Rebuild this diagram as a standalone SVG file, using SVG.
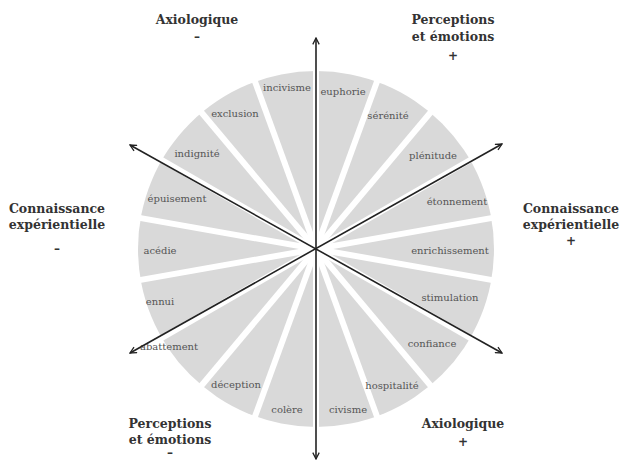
<svg xmlns="http://www.w3.org/2000/svg" width="621" height="461" viewBox="0 0 621 461">
<style>
.gap{stroke:#fff;stroke-width:6;}
.axis{stroke:#222;stroke-width:1.6;fill:none;marker-start:url(#arr);marker-end:url(#arr);}
.lbl{font-family:"DejaVu Serif","Liberation Serif",serif;font-size:10px;fill:#555;text-anchor:middle;}
.ttl{font-family:"DejaVu Serif","Liberation Serif",serif;font-size:12.5px;font-weight:bold;fill:#333;text-anchor:middle;}
.sgn{font-family:"DejaVu Serif","Liberation Serif",serif;font-size:12px;font-weight:bold;fill:#333;text-anchor:middle;}
</style>
<defs>
<marker id="arr" viewBox="0 0 10 10" refX="9" refY="5" markerWidth="8" markerHeight="8" markerUnits="userSpaceOnUse" orient="auto-start-reverse">
<path d="M1,1 L9,5 L1,9" fill="none" stroke="#222" stroke-width="1.6"/>
</marker>
</defs>
<rect width="621" height="461" fill="#fff"/>
<g id="wheel">
<circle cx="316" cy="249" r="178" fill="#d9d9d9"/>
<g class="gap">
<line x1="316" y1="64" x2="316" y2="434"/>
<line x1="379.3" y1="75.2" x2="252.7" y2="422.8"/>
<line x1="434.9" y1="107.3" x2="197.1" y2="390.7"/>
<line x1="476.2" y1="156.5" x2="155.8" y2="341.5"/>
<line x1="498.2" y1="216.9" x2="133.8" y2="281.1"/>
<line x1="498.2" y1="281.1" x2="133.8" y2="216.9"/>
<line x1="476.2" y1="341.5" x2="155.8" y2="156.5"/>
<line x1="434.9" y1="390.7" x2="197.1" y2="107.3"/>
<line x1="379.3" y1="422.8" x2="252.7" y2="75.2"/>
</g>
</g>
<g id="labels">
<text class="lbl" x="287" y="91">incivisme</text>
<text class="lbl" x="343" y="95">euphorie</text>
<text class="lbl" x="235" y="117">exclusion</text>
<text class="lbl" x="388" y="119">sérénité</text>
<text class="lbl" x="197" y="157">indignité</text>
<text class="lbl" x="433" y="159">plénitude</text>
<text class="lbl" x="177" y="202">épuisement</text>
<text class="lbl" x="457" y="205">étonnement</text>
<text class="lbl" x="160" y="254">acédie</text>
<text class="lbl" x="450" y="254">enrichissement</text>
<text class="lbl" x="160" y="305">ennui</text>
<text class="lbl" x="450" y="301">stimulation</text>
<text class="lbl" x="169" y="350">abattement</text>
<text class="lbl" x="432" y="347">confiance</text>
<text class="lbl" x="236" y="388">déception</text>
<text class="lbl" x="392" y="389">hospitalité</text>
<text class="lbl" x="287" y="413">colère</text>
<text class="lbl" x="348" y="413">civisme</text>
</g>
<g id="connectors">
<line class="axis" x1="316" y1="459" x2="316" y2="38"/>
<line class="axis" x1="130" y1="353" x2="502" y2="144"/>
<line class="axis" x1="502" y1="353" x2="130" y2="145"/>
</g>
<g id="axio-minus">
<text class="ttl" x="197" y="24">Axiologique</text>
<text class="sgn" x="197" y="41">–</text>
</g>
<g id="perc-plus">
<text class="ttl" x="453" y="24">Perceptions</text>
<text class="ttl" x="453" y="41">et émotions</text>
<text class="sgn" x="453" y="60">+</text>
</g>
<g id="conn-minus">
<text class="ttl" x="57" y="213">Connaissance</text>
<text class="ttl" x="57" y="229">expérientielle</text>
<text class="sgn" x="57" y="253">–</text>
</g>
<g id="conn-plus">
<text class="ttl" x="571" y="213">Connaissance</text>
<text class="ttl" x="571" y="229">expérientielle</text>
<text class="sgn" x="571" y="245">+</text>
</g>
<g id="perc-minus">
<text class="ttl" x="170" y="428">Perceptions</text>
<text class="ttl" x="170" y="444">et émotions</text>
<text class="sgn" x="170" y="457">–</text>
</g>
<g id="axio-plus">
<text class="ttl" x="463" y="428">Axiologique</text>
<text class="sgn" x="463" y="446">+</text>
</g>
</svg>
